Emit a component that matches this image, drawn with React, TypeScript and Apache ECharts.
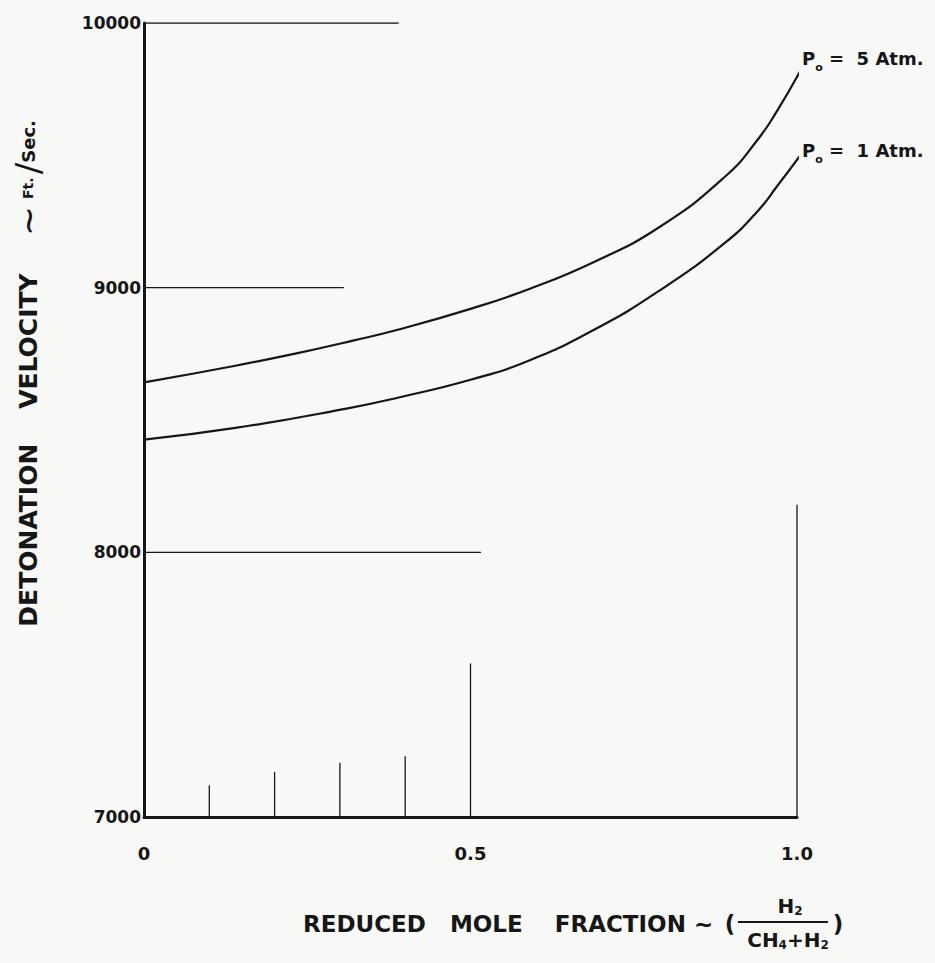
import React, { useEffect, useRef } from "react";
import * as echarts from "echarts";

const FONT = '"DejaVu Sans", "Liberation Sans", sans-serif';
const INK = "#161616";
const PAPER = "#f8f8f7";

// Reduced mole fraction H2/(CH4+H2) against detonation velocity (ft/sec)
const fracP5 = [0, 0.14, 0.23, 0.32, 0.39, 0.5, 0.59, 0.69, 0.79, 0.89, 0.94, 0.97, 1.005];
const velP5 = [8642, 8705, 8750, 8800, 8842, 8920, 8995, 9098, 9230, 9420, 9560, 9670, 9819];
const fracP1 = [0, 0.14, 0.31, 0.39, 0.5, 0.59, 0.69, 0.79, 0.89, 0.94, 0.97, 1.005];
const velP1 = [8426, 8470, 8543, 8585, 8652, 8725, 8842, 8990, 9170, 9290, 9385, 9500];

// axis ranges and tick labels
const xRange = [0, 1];
const yRange = [7000, 10000];
const xTickValues = [0, 0.5, 1];
const xTickText = ["0", "0.5", "1.0"];

// partial guide lines: horizontal ones start at x = 0, vertical ones at y = 7000
const hGuideY = [10000, 9000, 8000];
const hGuideEnd = [0.39, 0.306, 0.516];
const vGuideX = [0.1, 0.2, 0.3, 0.4, 0.5, 1.0];
const vGuideTop = [7120, 7170, 7205, 7230, 7580, 8180];

const curveLabelRich = {
  p: { fontSize: 18, fontWeight: "bold" as const, fontFamily: FONT, color: INK },
  o: { fontSize: 11, fontWeight: "bold" as const, fontFamily: FONT, color: INK, padding: [18, 0, 0, 0] },
  t: { fontSize: 18, fontWeight: "bold" as const, fontFamily: FONT, color: INK },
};

function curveSeries(name: string, xs: number[], ys: number[], atm: string, dy: number) {
  return {
    name,
    type: "line" as const,
    data: xs.map((x, i) => [x, ys[i]]),
    smooth: 0.5,
    showSymbol: false,
    symbol: "none",
    clip: false,
    lineStyle: { color: INK, width: 2.2 },
    endLabel: {
      show: true,
      formatter: `{p|P}{o|o}{t| =  ${atm} Atm.}`,
      rich: curveLabelRich,
      offset: [0, dy],
      distance: 3,
    },
    z: 3,
  };
}

function guideSeries(points: number[][]) {
  return {
    type: "line" as const,
    data: points,
    showSymbol: false,
    symbol: "none",
    silent: true,
    lineStyle: { color: INK, width: 1.3 },
    z: 2,
  };
}

export default function App() {
  const ref = useRef<HTMLDivElement>(null);

  useEffect(() => {
    document.body.style.margin = "0";
    const chart = echarts.init(ref.current!, null, { renderer: "svg" });

    const hGuides = hGuideY.map((y, i) => guideSeries([[xRange[0], y], [hGuideEnd[i], y]]));
    const vGuides = vGuideX.map((x, i) => guideSeries([[x, yRange[0]], [x, vGuideTop[i]]]));

    chart.setOption({
      animation: false,
      backgroundColor: PAPER,
      grid: { left: 144, right: 138, top: 23, bottom: 146, containLabel: false },
      xAxis: {
        type: "value",
        min: xRange[0],
        max: xRange[1],
        interval: 0.5,
        axisLine: { show: true, lineStyle: { color: INK, width: 3 } },
        axisTick: { show: false },
        splitLine: { show: false },
        axisLabel: {
          margin: 27,
          color: INK,
          fontSize: 18,
          fontWeight: "bold",
          fontFamily: FONT,
          formatter: (v: number) => {
            const k = xTickValues.findIndex((t) => Math.abs(t - v) < 1e-9);
            return k >= 0 ? xTickText[k] : "";
          },
        },
      },
      yAxis: {
        type: "value",
        min: yRange[0],
        max: yRange[1],
        interval: 1000,
        axisLine: { show: true, lineStyle: { color: INK, width: 3 } },
        axisTick: { show: false },
        splitLine: { show: false },
        axisLabel: {
          margin: 3,
          color: INK,
          fontSize: 17,
          fontWeight: "bold",
          fontFamily: FONT,
          formatter: (v: number) => String(v),
        },
      },
      series: [
        ...hGuides,
        ...vGuides,
        curveSeries("P0 = 5 Atm.", fracP5, velP5, "5", -15),
        curveSeries("P0 = 1 Atm.", fracP1, velP1, "1", -7),
      ],
      graphic: [
        {
          type: "text",
          x: 28,
          y: 450,
          rotation: Math.PI / 2,
          style: {
            text: "DETONATION    VELOCITY",
            fontSize: 25,
            fontWeight: "bold",
            fontFamily: FONT,
            fill: INK,
            align: "center",
            verticalAlign: "middle",
          },
        },
        {
          type: "text",
          x: 28,
          y: 178,
          rotation: Math.PI / 2,
          style: {
            text: "{t|~}  {f|Ft.} {s|/}{e|Sec.}",
            align: "center",
            verticalAlign: "middle",
            fill: INK,
            rich: {
              t: { fontSize: 36, fontFamily: FONT, fill: INK },
              f: { fontSize: 14, fontWeight: "bold", fontFamily: FONT, fill: INK },
              s: { fontSize: 34, fontFamily: FONT, fill: INK },
              e: { fontSize: 18, fontWeight: "bold", fontFamily: FONT, fill: INK },
            },
          },
        },
        {
          type: "text",
          x: 303,
          y: 924,
          style: {
            text: "REDUCED   MOLE    FRACTION ~",
            fontSize: 23,
            fontWeight: "bold",
            fontFamily: FONT,
            fill: INK,
            align: "left",
            verticalAlign: "middle",
          },
        },
        {
          type: "text",
          x: 730,
          y: 924,
          style: { text: "(", fontSize: 23, fontWeight: "bold", fontFamily: FONT, fill: INK, align: "center", verticalAlign: "middle" },
        },
        {
          type: "text",
          x: 790,
          y: 906,
          style: {
            text: "H{s|2}",
            fontSize: 20,
            fontWeight: "bold",
            fontFamily: FONT,
            fill: INK,
            align: "center",
            verticalAlign: "middle",
            rich: { s: { fontSize: 12, fontWeight: "bold", fontFamily: FONT, fill: INK, padding: [10, 0, 0, 0] } },
          },
        },
        {
          type: "line",
          shape: { x1: 738, y1: 922, x2: 828, y2: 922 },
          style: { stroke: INK, lineWidth: 2 },
        },
        {
          type: "text",
          x: 788,
          y: 940,
          style: {
            text: "CH{s|4}+H{s|2}",
            fontSize: 20,
            fontWeight: "bold",
            fontFamily: FONT,
            fill: INK,
            align: "center",
            verticalAlign: "middle",
            rich: { s: { fontSize: 12, fontWeight: "bold", fontFamily: FONT, fill: INK, padding: [10, 0, 0, 0] } },
          },
        },
        {
          type: "text",
          x: 838,
          y: 924,
          style: { text: ")", fontSize: 23, fontWeight: "bold", fontFamily: FONT, fill: INK, align: "center", verticalAlign: "middle" },
        },
      ],
    });

    return () => chart.dispose();
  }, []);

  return (
    <div
      ref={ref}
      style={{ position: "fixed", left: 0, top: 0, width: 935, height: 963 }}
    />
  );
}
